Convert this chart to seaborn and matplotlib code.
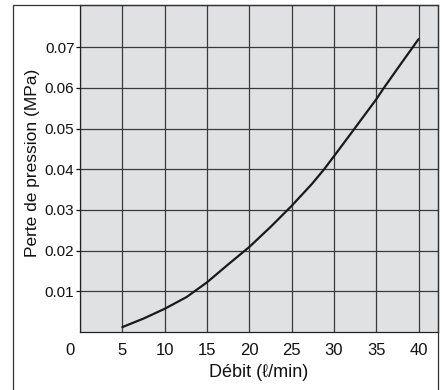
import matplotlib
matplotlib.use("Agg")
import matplotlib.pyplot as plt
import seaborn as sns
import pandas as pd
from matplotlib.patches import Rectangle
from matplotlib.transforms import ScaledTranslation

# Data
debit = [5, 7.5, 10, 12.6, 15, 17.5, 20, 22.5, 25, 27.4, 28.8, 30, 31.9, 35, 35.9, 37.8, 40]
perte = [0.0012, 0.0033, 0.0057, 0.0086, 0.0122, 0.0166, 0.0209, 0.0258, 0.0310, 0.0364,
         0.0399, 0.0432, 0.0485, 0.0572, 0.0600, 0.0656, 0.0720]
x_ticks = [0, 5, 10, 15, 20, 25, 30, 35, 40]
y_ticks = [0.01, 0.02, 0.03, 0.04, 0.05, 0.06, 0.07]
y_tick_labels = ["0.01", "0.02", "0.03", "0.04", "0.05", "0.06", "0.07"]

df = pd.DataFrame({"Debit": debit, "Perte": perte})

sns.set_theme(style="whitegrid")
plt.rcParams["font.family"] = ["Liberation Sans", "DejaVu Sans"]

fig = plt.figure(figsize=(4.46, 3.90), dpi=100)
ax = fig.add_axes([80 / 446, 58 / 390, 358 / 446, 327 / 390])
ax.set_facecolor("#e0e1e3")

sns.lineplot(data=df, x="Debit", y="Perte", ax=ax, color="#1a1a1a", linewidth=1.6, sort=False)

ax.set_xlim(0, 42.3)
ax.set_ylim(0, 0.0804)
ax.set_xticks(x_ticks)
ax.set_yticks(y_ticks)
ax.set_yticklabels(y_tick_labels)

ax.grid(True, color="#3a3a3a", linewidth=0.9)
for s in ax.spines.values():
    s.set_visible(True)
    s.set_color("#222222")
    s.set_linewidth(0.9)

ax.tick_params(axis="x", length=0, pad=8, labelsize=12, colors="#111111")
ax.tick_params(axis="y", length=3, width=0.9, pad=1, labelsize=11, colors="#111111", left=True)

# the "0" label sits a little left of the axis in the original
lab0 = ax.get_xticklabels()[0]
lab0.set_transform(lab0.get_transform() + ScaledTranslation(-0.10, 0, fig.dpi_scale_trans))

ax.set_xlabel("Débit (ℓ/min)", fontsize=13, color="#111111", labelpad=4)
ax.set_ylabel("Perte de pression (MPa)", fontsize=12.5, color="#111111")
ax.yaxis.set_label_coords(-0.112, 0.518)

# outer frame around the chart
fig.add_artist(Rectangle((13 / 446, -0.02), (438 - 13) / 446, (385 / 390) + 0.02,
                         transform=fig.transFigure, fill=False, edgecolor="#333333",
                         linewidth=0.9, clip_on=False))

fig.savefig("out.png", dpi=100)
